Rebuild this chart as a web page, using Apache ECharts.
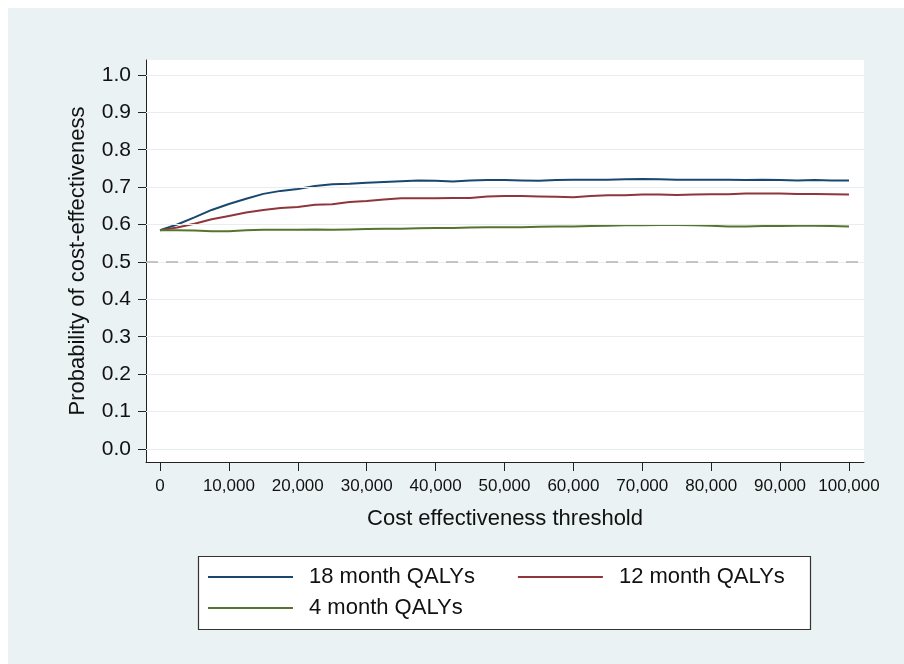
<!DOCTYPE html>
<html>
<head>
<meta charset="utf-8">
<script src="https://cdn.jsdelivr.net/npm/echarts@6/dist/echarts.min.js"></script>
<style>
html,body{margin:0;padding:0;background:#ffffff;}
#chart{width:904px;height:664px;}
</style>
</head>
<body>
<div id="chart"></div>
<script>
const thresholds = [0,2500,5000,7500,10000,12500,15000,17500,20000,22500,25000,27500,30000,32500,35000,37500,40000,42500,45000,47500,50000,52500,55000,57500,60000,62500,65000,67500,70000,72500,75000,77500,80000,82500,85000,87500,90000,92500,95000,97500,100000];
const qaly18 = [0.585,0.600,0.619,0.639,0.655,0.669,0.682,0.690,0.695,0.703,0.708,0.709,0.712,0.714,0.716,0.718,0.717,0.715,0.718,0.719,0.719,0.718,0.717,0.719,0.720,0.720,0.720,0.721,0.722,0.721,0.720,0.720,0.720,0.720,0.719,0.720,0.719,0.718,0.719,0.718,0.718];
const qaly12 = [0.585,0.592,0.602,0.614,0.623,0.632,0.639,0.644,0.647,0.653,0.654,0.660,0.663,0.667,0.670,0.670,0.670,0.671,0.671,0.675,0.676,0.676,0.675,0.674,0.673,0.676,0.678,0.678,0.680,0.680,0.679,0.680,0.681,0.681,0.683,0.683,0.683,0.682,0.682,0.681,0.680];
const qaly4 = [0.585,0.585,0.584,0.582,0.582,0.585,0.586,0.586,0.586,0.587,0.586,0.587,0.588,0.589,0.589,0.590,0.591,0.591,0.592,0.593,0.593,0.593,0.594,0.595,0.595,0.596,0.597,0.598,0.598,0.599,0.599,0.598,0.597,0.595,0.595,0.596,0.596,0.597,0.597,0.596,0.595];
const seriesNames = ['18 month QALYs','12 month QALYs','4 month QALYs'];
const yTicks = [0,0.1,0.2,0.3,0.4,0.5,0.6,0.7,0.8,0.9,1.0];
const xTicks = [0,10000,20000,30000,40000,50000,60000,70000,80000,90000,100000];
const refLine = 0.5;

const FONT = '"Liberation Sans", Arial, sans-serif';
const pair = arr => thresholds.map((x, i) => [x, arr[i]]);

const chart = echarts.init(document.getElementById('chart'), null, {renderer: 'canvas'});
chart.setOption({
  animation: false,
  backgroundColor: '#ffffff',
  textStyle: {fontFamily: FONT},
  graphic: [
    {type: 'rect', z: -10, shape: {x: 8, y: 8, width: 896, height: 656}, style: {fill: '#eaf2f3'}},
    {type: 'rect', z: 5, shape: {x: 198.5, y: 556.5, width: 612, height: 73}, style: {fill: '#ffffff', stroke: '#333333', lineWidth: 1.2}}
  ],
  grid: {left: 146, right: 40, top: 60, bottom: 202, show: true, backgroundColor: '#ffffff', borderWidth: 0},
  xAxis: {
    type: 'value', min: -2030, max: 102180,
    name: 'Cost effectiveness threshold', nameLocation: 'middle', nameGap: 46,
    nameTextStyle: {fontSize: 22, color: '#111', fontFamily: FONT},
    axisLine: {show: true, onZero: false, lineStyle: {color: '#222', width: 1}},
    axisTick: {show: true, length: 9, customValues: xTicks, lineStyle: {color: '#222'}},
    axisLabel: {customValues: xTicks, fontSize: 17, color: '#111', margin: 16, fontFamily: FONT,
      formatter: v => Number(v).toLocaleString('en-US')},
    splitLine: {show: false}
  },
  yAxis: {
    type: 'value', min: -0.035, max: 1.04,
    name: 'Probability of cost-effectiveness', nameLocation: 'middle', nameGap: 57, nameRotate: 90,
    nameTextStyle: {fontSize: 22, color: '#111', fontFamily: FONT},
    axisLine: {show: true, onZero: false, lineStyle: {color: '#222', width: 1}},
    axisTick: {show: true, length: 8, customValues: yTicks, lineStyle: {color: '#222'}},
    axisLabel: {customValues: yTicks, fontSize: 21, color: '#111', margin: 15, fontFamily: FONT,
      formatter: v => Number(v).toFixed(1)},
    splitLine: {show: false}
  },
  legend: [
    {left: 208, top: 566, padding: 0, itemWidth: 85, itemHeight: 2, itemGap: 43, icon: 'rect', z: 10,
      data: [seriesNames[0], seriesNames[1]],
      textStyle: {fontSize: 22, color: '#111', fontFamily: FONT, padding: [0, 0, 0, 11]}},
    {left: 208, top: 597, padding: 0, itemWidth: 85, itemHeight: 2, itemGap: 43, icon: 'rect', z: 10,
      data: [seriesNames[2]],
      textStyle: {fontSize: 22, color: '#111', fontFamily: FONT, padding: [0, 0, 0, 11]}}
  ],
  series: [
    {
      type: 'line', name: '_grid', data: [], z: 1, silent: true,
      markLine: {
        silent: true, symbol: 'none', label: {show: false}, animation: false,
        data: yTicks.map(v => ({yAxis: v, lineStyle: {color: '#e8eef0', width: 1, type: 'solid'}}))
          .concat([{yAxis: refLine, lineStyle: {color: '#b4b4b4', width: 1.5, type: [12, 8]}}])
      }
    },
    {type: 'line', name: seriesNames[0], data: pair(qaly18), symbol: 'none', z: 3,
      lineStyle: {color: '#1a476f', width: 2}, itemStyle: {color: '#1a476f'}},
    {type: 'line', name: seriesNames[1], data: pair(qaly12), symbol: 'none', z: 3,
      lineStyle: {color: '#90353b', width: 2}, itemStyle: {color: '#90353b'}},
    {type: 'line', name: seriesNames[2], data: pair(qaly4), symbol: 'none', z: 3,
      lineStyle: {color: '#55752f', width: 2}, itemStyle: {color: '#55752f'}}
  ]
});
</script>
</body>
</html>
